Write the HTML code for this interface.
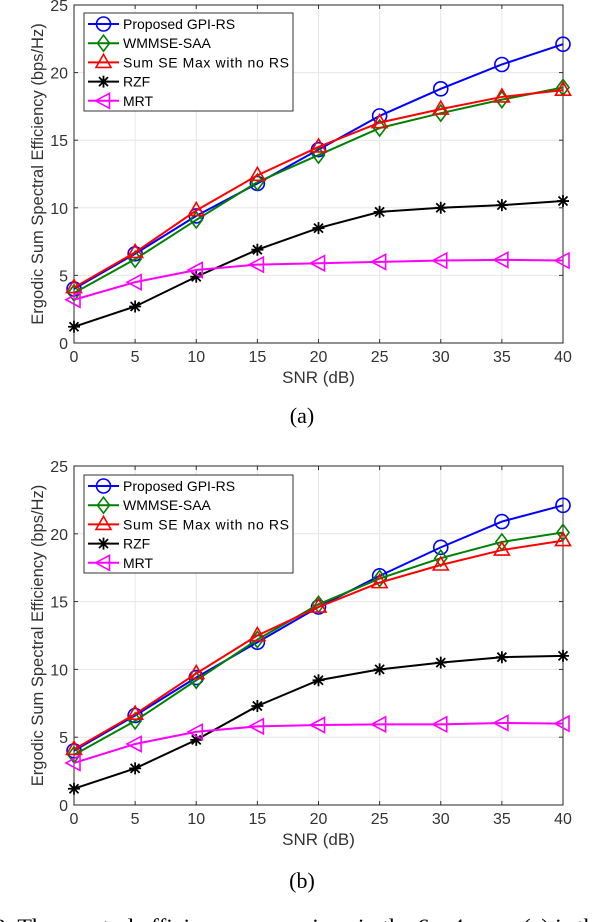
<!DOCTYPE html>
<html><head><meta charset="utf-8"><style>
body{margin:0;background:#fff;width:604px;height:922px;overflow:hidden;font-family:"Liberation Sans",sans-serif}
svg{position:absolute;left:0;top:0}
</style></head><body>
<svg id="s" width="604" height="922"></svg>
<script>
const snr=[0,5,10,15,20,25,30,35,40];
const yTicks=[0,5,10,15,20,25];
const seriesNames=["Proposed GPI-RS","WMMSE-SAA","Sum SE Max with no RS","RZF","MRT"];
const aGPI=[4.0,6.6,9.4,11.8,14.3,16.8,18.8,20.6,22.1];
const aWMMSE=[3.7,6.2,9.1,11.9,13.9,15.9,17.0,18.0,18.9];
const aNoRS=[4.1,6.7,9.8,12.4,14.5,16.3,17.3,18.2,18.7];
const aRZF=[1.2,2.7,4.9,6.9,8.5,9.7,10.0,10.2,10.5];
const aMRT=[3.2,4.5,5.4,5.8,5.9,6.0,6.1,6.15,6.1];
const bGPI=[4.0,6.6,9.4,12.0,14.6,16.9,19.0,20.9,22.1];
const bWMMSE=[3.7,6.2,9.2,12.2,14.8,16.7,18.2,19.4,20.1];
const bNoRS=[4.1,6.7,9.7,12.5,14.6,16.4,17.7,18.8,19.5];
const bRZF=[1.2,2.7,4.8,7.3,9.2,10.0,10.5,10.9,11.0];
const bMRT=[3.1,4.5,5.4,5.8,5.9,5.95,5.95,6.05,6.0];

const NS="http://www.w3.org/2000/svg";
const svg=document.getElementById('s');
function mk(t,a,p){const e=document.createElementNS(NS,t);for(const k in a)e.setAttribute(k,a[k]);(p||svg).appendChild(e);return e;}
const colors=["#0000ff","#008000","#ff0000","#000000","#ff00ff"];
function marker(g,type,x,y,c){
  const st={fill:"none",stroke:c,"stroke-width":1.6};
  let e;
  if(type===0){e=mk('circle',Object.assign({cx:x,cy:y,r:7},st),g);}
  else if(type===1){e=mk('polygon',Object.assign({points:`${x},${y-8} ${x+6},${y} ${x},${y+8} ${x-6},${y}`},st),g);}
  else if(type===2){e=mk('polygon',Object.assign({points:`${x},${y-8} ${x+7.5},${y+5} ${x-7.5},${y+5}`},st),g);}
  else if(type===3){e=mk('path',{d:`M${x-6},${y}H${x+6}M${x},${y-6}V${y+6}M${x-4.5},${y-4.5}L${x+4.5},${y+4.5}M${x-4.5},${y+4.5}L${x+4.5},${y-4.5}`,stroke:c,"stroke-width":1.8},g);}
  else {e=mk('polygon',Object.assign({points:`${x-8},${y} ${x+6},${y-7.5} ${x+6},${y+7.5}`},st),g);}
  
  
}
function chart(id,top,bottom,data,legTop,cap,capY){
  const L=74,R=563;
  const xs=v=>L+(v-0)/40*(R-L);
  const ys=v=>bottom-(v/25)*(bottom-top);
  const g=mk('g',{});
  
  
  snr.forEach(v=>{mk('line',{x1:xs(v),x2:xs(v),y1:top,y2:bottom,stroke:"#e6e6e6","stroke-width":1},g);
    mk('line',{x1:xs(v),x2:xs(v),y1:bottom,y2:bottom-4,stroke:"#333"},g);
    mk('line',{x1:xs(v),x2:xs(v),y1:top,y2:top+4,stroke:"#333"},g);
    const t=mk('text',{x:xs(v),y:bottom+19,"text-anchor":"middle","font-size":16,fill:"#333"},g);t.textContent=v;
    });
  yTicks.forEach(v=>{mk('line',{x1:L,x2:R,y1:ys(v),y2:ys(v),stroke:"#e6e6e6","stroke-width":1},g);
    mk('line',{x1:L,x2:L+4,y1:ys(v),y2:ys(v),stroke:"#333"},g);
    mk('line',{x1:R,x2:R-4,y1:ys(v),y2:ys(v),stroke:"#333"},g);
    const t=mk('text',{x:L-6,y:ys(v)+6,"text-anchor":"end","font-size":16,fill:"#333"},g);t.textContent=v;
    });
  const box=mk('rect',{x:L,y:top,width:R-L,height:bottom-top,fill:"none",stroke:"#262626","stroke-width":1},g);
  
  const xl=mk('text',{x:(L+R)/2,y:bottom+40,"text-anchor":"middle","font-size":17,fill:"#333"},g);xl.textContent="SNR (dB)";
  
  const yl=mk('text',{x:0,y:0,"text-anchor":"middle","font-size":16.5,fill:"#333",transform:`translate(43,${(top+bottom)/2}) rotate(-90)`},g);yl.textContent="Ergodic Sum Spectral Efficiency (bps/Hz)";
  
  data.forEach((arr,si)=>{
    const sg=mk('g',{},g);
    
    
    const pts=arr.map((v,i)=>xs(snr[i])+","+ys(v)).join(" ");
    mk('polyline',{points:pts,fill:"none",stroke:colors[si],"stroke-width":2},sg);
    arr.forEach((v,i)=>marker(sg,si,xs(snr[i]),ys(v),colors[si]));
  });
  const lg=mk('g',{},g);
  
  mk('rect',{x:84,y:legTop,width:209,height:98,fill:"#fff",stroke:"#333","stroke-width":1},lg);
  seriesNames.forEach((n,i)=>{
    const y=legTop+11+i*19.2;
    const eg=mk('g',{},lg);
    
    mk('line',{x1:88,x2:119,y1:y,y2:y,stroke:colors[i],"stroke-width":2},eg);
    marker(eg,i,103.5,y,colors[i]);
    const t=mk('text',{x:123,y:y+5,"font-size":14,fill:"#000",textLength:n.length>15?166:null},eg);t.textContent=n;
    if(n.length<=15)t.removeAttribute('textLength');
  });
  const c=mk('text',{x:302,y:capY,"text-anchor":"middle","font-size":22,"font-family":"Liberation Serif,serif",fill:"#000"});c.textContent=cap;
  
}
chart('a',5,343,[aGPI,aWMMSE,aNoRS,aRZF,aMRT],13,"(a)",423);
chart('b',466,805,[bGPI,bWMMSE,bNoRS,bRZF,bMRT],475,"(b)",888);
const ft=mk('text',{x:-6,y:934,"font-size":22,"font-family":"Liberation Serif,serif",fill:"#000",textLength:612,lengthAdjust:"spacingAndGlyphs"});
ft.textContent="2.  The spectral efficiency comparison in the 6×s4 case. (a) is the";

</script>
</body></html>
